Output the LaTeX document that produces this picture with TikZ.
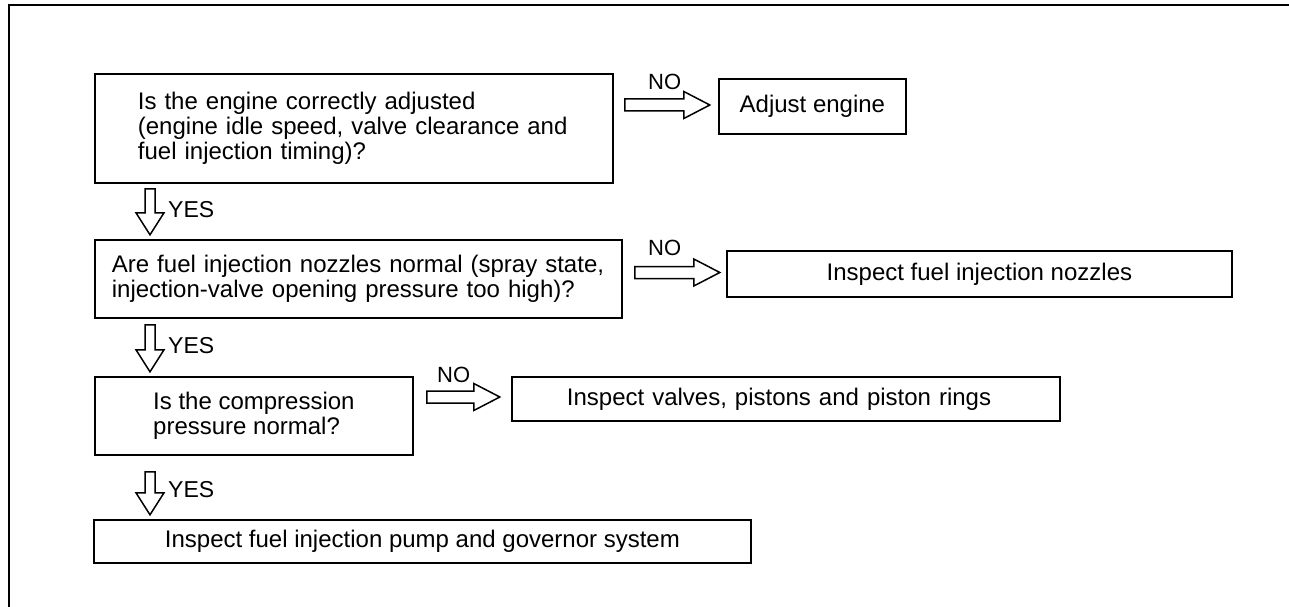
\documentclass[tikz,border=0pt]{standalone}
\usepackage{fontspec}
\setmainfont{Liberation Sans}
\usetikzlibrary{calc}
\begin{document}
\begin{tikzpicture}[x=1pt,y=-1pt,
  box/.style={draw, line width=1.8pt, inner sep=0pt, font=\fontsize{24}{25}\selectfont, anchor=north west},
  lbl/.style={inner sep=0pt, anchor=base west, font=\fontsize{22}{24}\selectfont},
  ylbl/.style={inner sep=0pt, anchor=base west, font=\fontsize{23}{25}\selectfont},
  blk/.style={draw, line width=1.5pt, fill=white, line join=miter},
  pics/harrow/.style={code={\draw[blk] (0,-6) -- ({#1-26},-6) -- ({#1-26},-13.5) -- (#1,0) -- ({#1-26},13.5) -- ({#1-26},6) -- (0,6) -- cycle;}},
  pics/varrow/.style={code={\draw[blk] (-5,0) -- (-5,{#1-22}) -- (-14,{#1-22}) -- (0,#1) -- (14,{#1-22}) -- (5,{#1-22}) -- (5,0) -- cycle;}},
]
\useasboundingbox (0,0) rectangle (1289,607);
% outer frame (only top and left visible)
\draw[line width=1.8pt] (9,620) -- (9,5) -- (1300,5);

\node[box, minimum width=518pt, minimum height=109pt, text width=432pt, inner xsep=43pt, align=left] (q1) at (94,73)
  {Is the engine correctly adjusted\\(engine idle speed, valve clearance and\\fuel injection timing)?};
\node[box, minimum width=187pt, minimum height=55pt] (a1) at (718,78) {Adjust engine};

\node[box, minimum width=527pt, minimum height=78pt, text width=493pt, inner xsep=17pt, align=left] (q2) at (94,239)
  {Are fuel injection nozzles normal (spray state,\\injection-valve opening pressure too high)?};
\node[box, minimum width=505pt, minimum height=46pt] (a2) at (726,250) {Inspect fuel injection nozzles};

\node[box, minimum width=318pt, minimum height=78pt, align=left] (q3) at (94,376)
  {Is the compression\\pressure normal?};
\node[box, minimum width=548pt, minimum height=44pt, text width=438pt, inner xsep=55pt, align=left] (a3) at (511,376)
  {Inspect valves, pistons and piston rings};

\node[box, minimum width=657pt, minimum height=43pt] (a4) at (93,519) {Inspect fuel injection pump and governor system};

% NO arrows
\pic at ($(q1.north east)+(11,32)$) {harrow=85};
\pic at ($(q2.north east)+(12,33.5)$) {harrow=85};
\pic at ($(q3.north east)+(13,21)$) {harrow=73};
% YES arrows
\pic at ($(q1.south west)+(56,5)$) {varrow=46};
\pic at ($(q2.south west)+(56,6)$) {varrow=47};
\pic at ($(q3.south west)+(56,16)$) {varrow=43};

% labels
\node[lbl] (no1) at (648,90) {NO};
\node[lbl] (no2) at (648,255) {NO};
\node[lbl] (no3) at (437,382) {NO};
\node[ylbl] (yes1) at (168,217) {YES};
\node[ylbl] (yes2) at (168,353) {YES};
\node[ylbl] (yes3) at (168,497) {YES};
\end{tikzpicture}
\end{document}
